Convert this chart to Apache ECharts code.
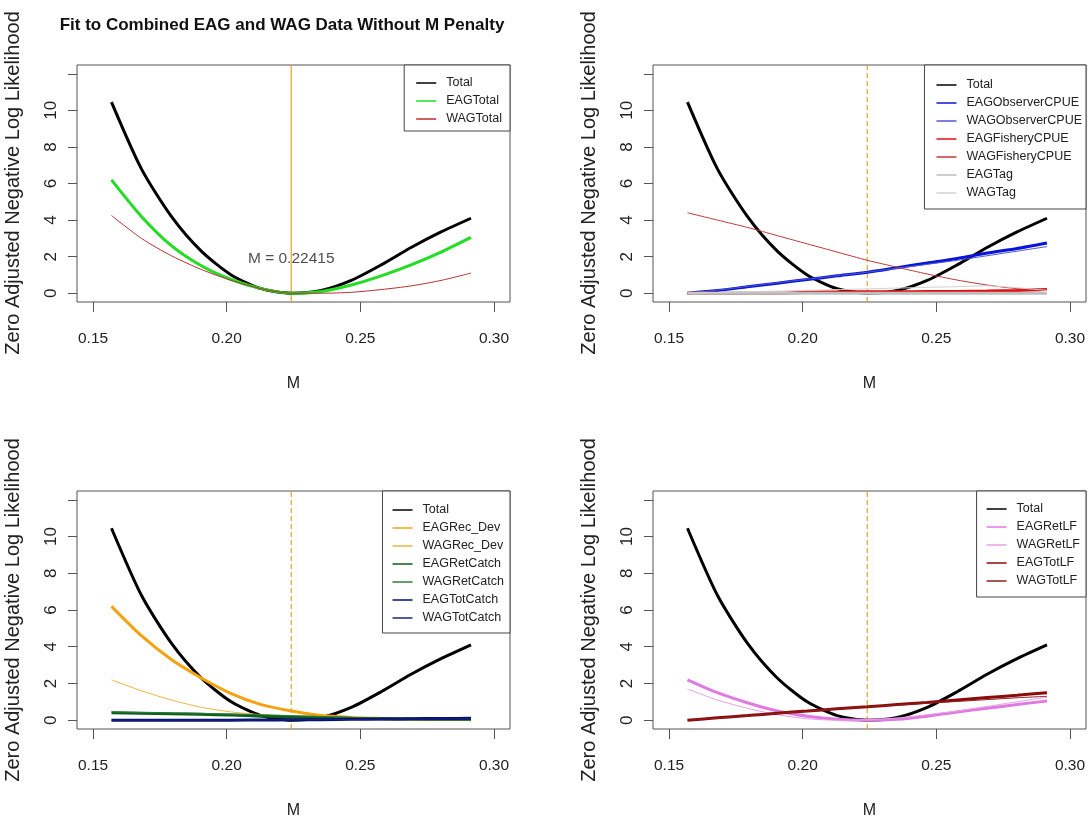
<!DOCTYPE html>
<html><head><meta charset="utf-8">
<script src="https://cdn.jsdelivr.net/npm/echarts@6/dist/echarts.min.js"></script>
<style>html,body{margin:0;padding:0;background:#fff}#c{width:1090px;height:824px}</style>
</head><body><div id="c"></div>
<script>
// ---------- data ----------
const M = [0.1569,0.1681,0.1793,0.1905,0.2017,0.2129,0.2242,0.2354,0.2466,0.2578,0.2690,0.2802,0.2914];
const M_HAT = 0.22415;
const M_LABEL = 'M = 0.22415';
const M_LABEL_Y = 1.9;
const X_MIN = 0.144, X_MAX = 0.306;
const Y_MIN = -0.48, Y_MAX = 12.48;
const xTicks = [0.15,0.20,0.25,0.30];
const yTicks = [0,2,4,6,8,10,12];
const yLabels = [0,2,4,6,8,10];
const TITLE = 'Fit to Combined EAG and WAG Data Without M Penalty';
const YLAB = 'Zero Adjusted Negative Log Likelihood';
const XLAB = 'M';

const total       = [10.45,6.8,4.2,2.3,1.0,0.25,0,0.15,0.7,1.55,2.5,3.35,4.1];
// panel 1
const eagTotal    = [6.2,4.2,2.6,1.5,0.75,0.25,0,0.1,0.45,0.95,1.55,2.25,3.05];
const wagTotal    = [4.25,3.0,2.05,1.3,0.7,0.25,0,0,0.05,0.2,0.4,0.7,1.1];
// panel 2
const eagObsCPUE  = [0,0.15,0.35,0.55,0.75,0.95,1.15,1.4,1.65,1.9,2.2,2.45,2.75];
const wagObsCPUE  = [0,0.17,0.37,0.57,0.77,0.96,1.15,1.37,1.58,1.8,2.05,2.3,2.55];
const eagFishCPUE = [0,0,0,0,0.05,0.07,0.08,0.08,0.09,0.1,0.12,0.15,0.2];
const wagFishCPUE = [4.4,4.0,3.6,3.15,2.7,2.25,1.8,1.42,1.05,0.72,0.45,0.25,0.2];
const eagTag      = [0,0,0,0,0,0,0,0,0,0,0,0,0];
const wagTag      = [0,0.04,0.08,0.12,0.16,0.2,0.24,0.28,0.32,0.36,0.4,0.3,0.15];
// panel 3
const eagRecDev   = [6.2,4.6,3.3,2.3,1.45,0.85,0.5,0.25,0.15,0.1,0.07,0.05,0.05];
const wagRecDev   = [2.2,1.6,1.1,0.7,0.45,0.3,0.2,0.1,0.05,0.02,0,0,0];
const eagRetCatch = [0.4,0.38,0.35,0.32,0.28,0.22,0.18,0.14,0.1,0.08,0.06,0.05,0.05];
const wagRetCatch = [0.45,0.42,0.4,0.37,0.33,0.3,0.25,0.2,0.15,0.12,0.1,0.08,0.07];
const eagTotCatch = [0,0,0,0,0,0.01,0.02,0.03,0.05,0.06,0.08,0.09,0.1];
const wagTotCatch = [0,0,0,0,0,0.01,0.02,0.03,0.04,0.05,0.06,0.07,0.08];
// panel 4
const eagRetLF    = [2.2,1.5,0.95,0.5,0.22,0.05,0,0.05,0.22,0.45,0.65,0.85,1.05];
const wagRetLF    = [1.7,1.1,0.65,0.3,0.08,0,0.02,0.12,0.3,0.5,0.75,1.0,1.25];
const eagTotLF    = [0,0.13,0.25,0.38,0.5,0.62,0.73,0.85,0.97,1.1,1.23,1.36,1.5];
const wagTotLF    = [0,0.12,0.24,0.36,0.48,0.6,0.72,0.82,0.92,1.02,1.12,1.22,1.3];

const panels = [
  {names:['Total','EAGTotal','WAGTotal'], data:[total,eagTotal,wagTotal]},
  {names:['Total','EAGObserverCPUE','WAGObserverCPUE','EAGFisheryCPUE','WAGFisheryCPUE','EAGTag','WAGTag'],
   data:[total,eagObsCPUE,wagObsCPUE,eagFishCPUE,wagFishCPUE,eagTag,wagTag]},
  {names:['Total','EAGRec_Dev','WAGRec_Dev','EAGRetCatch','WAGRetCatch','EAGTotCatch','WAGTotCatch'],
   data:[total,eagRecDev,wagRecDev,eagRetCatch,wagRetCatch,eagTotCatch,wagTotCatch]},
  {names:['Total','EAGRetLF','WAGRetLF','EAGTotLF','WAGTotLF'], data:[total,eagRetLF,wagRetLF,eagTotLF,wagTotLF]}
];

// ---------- styles ----------
const FONT = '"Liberation Sans",Arial,sans-serif';
const TXT = '#222';
const styles = [
  {colors:['#000','#22DD22','#B83030'], widths:[3,3,1]},
  {colors:['#000','#0A14D8','#4A5ACB','#E01010','#C03838','#BEBEBE','#D2D2D2'], widths:[3,3,1,3,1,3,1]},
  {colors:['#000','#F5A20F','#EDB445','#0B5E1B','#2E7D3A','#00106E','#1A237E'], widths:[3,3,1,3,1,3,1]},
  {colors:['#000','#E07AE0','#E8A0E8','#8B0A0A','#8B2020'], widths:[3,3,1,3,1]}
];
const GRIDS = [
  {left:77, top:65, width:433, height:237},
  {left:653, top:65, width:433, height:237},
  {left:77, top:491, width:433, height:238},
  {left:653, top:491, width:433, height:238}
];
const LEGPOS = [
  {right:580, top:65, padding:[11,8,5,12]},
  {right:4, top:65, padding:[13,4,9,12]},
  {right:580, top:491, padding:[12,6,8,10]},
  {right:4, top:491, padding:[11,6,9,10]}
];
const VLINE = '#E2A526';

const grid = GRIDS.map(g => Object.assign({show:true, borderColor:'#555', borderWidth:1, backgroundColor:'#fff'}, g));
const xAxis = GRIDS.map((g,i) => ({
  type:'value', gridIndex:i, min:X_MIN, max:X_MAX,
  axisLine:{show:false, onZero:false},
  axisTick:{show:true, length:10, customValues:xTicks, lineStyle:{color:'#555'}},
  axisLabel:{customValues:xTicks, formatter:v=>v.toFixed(2), fontSize:15.5, fontFamily:FONT, color:TXT, margin:29},
  splitLine:{show:false},
  name:XLAB, nameLocation:'middle', nameGap:74,
  nameTextStyle:{fontSize:16, fontFamily:FONT, color:TXT}
}));
const yAxis = GRIDS.map((g,i) => ({
  type:'value', gridIndex:i, min:Y_MIN, max:Y_MAX,
  axisLine:{show:false, onZero:false},
  axisTick:{show:true, length:9, customValues:yTicks, lineStyle:{color:'#555'}},
  axisLabel:{customValues:yLabels, rotate:90, fontSize:17, fontFamily:FONT, color:TXT, margin:17},
  splitLine:{show:false}
}));

const series = [];
panels.forEach((p,pi) => {
  // vertical reference line at the estimated M
  series.push({
    type:'line', name:'Mhat'+pi, xAxisIndex:pi, yAxisIndex:pi,
    data:[[M_HAT, Y_MIN],[M_HAT, Y_MAX]], symbol:'none', silent:true,
    lineStyle:{color:VLINE, width:1.2, type: pi === 0 ? 'solid' : [5,3]},
    emphasis:{disabled:true}, z:1
  });
  p.names.forEach((nm,si) => {
    series.push({
      type:'line', name:nm, xAxisIndex:pi, yAxisIndex:pi,
      data:M.map((m,k)=>[m,p.data[si][k]]),
      symbol:'none', showSymbol:false, smooth:0.25,
      lineStyle:{color:styles[pi].colors[si], width:styles[pi].widths[si]},
      itemStyle:{color:styles[pi].colors[si]},
      emphasis:{disabled:true}, silent:true, z:2
    });
  });
});
series.push({
  type:'scatter', name:'mlabel', xAxisIndex:0, yAxisIndex:0,
  data:[[M_HAT, M_LABEL_Y]], symbolSize:0, silent:true, z:5,
  label:{show:true, formatter:M_LABEL, position:'inside', fontSize:15.5, fontFamily:FONT, color:TXT}
});

const legend = panels.map((p,pi) => Object.assign({
  orient:'vertical', data:p.names, icon:'rect', itemWidth:20, itemHeight:1.5, itemGap:4,
  backgroundColor:'#fff', borderColor:'#444', borderWidth:1, borderRadius:0,
  selectedMode:false,
  textStyle:{fontSize:12.5, fontFamily:FONT, color:TXT, padding:[0,0,0,5], lineHeight:14}
}, LEGPOS[pi]));

const graphic = [[13,183],[589,183],[13,610],[589,610]].map(([x,y]) => ({
  type:'text', x, y, rotation:Math.PI/2,
  style:{text:YLAB, fontSize:20, fontFamily:FONT, fill:TXT, align:'center', verticalAlign:'middle'}
}));

const chart = echarts.init(document.getElementById('c'), null, {renderer:'canvas'});
chart.setOption({
  animation:false,
  backgroundColor:'#fff',
  title:{text:TITLE, left:277, top:12, textAlign:'center',
    textStyle:{fontSize:17, fontWeight:'bold', fontFamily:FONT, color:'#111'}},
  grid, xAxis, yAxis, series, legend, graphic
});
</script></body></html>
